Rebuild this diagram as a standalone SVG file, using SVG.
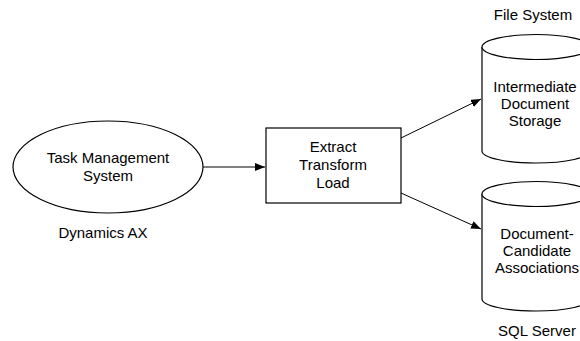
<svg xmlns="http://www.w3.org/2000/svg" width="580" height="341" viewBox="0 0 580 341">
<style>
.s{fill:#fff;stroke:#000;stroke-width:1.2}
.t{font-family:"Liberation Sans",Arial,sans-serif;font-size:15px;fill:#000;text-anchor:middle}
.c{fill:none;stroke:#000;stroke-width:1}
</style>
<defs>
<marker id="a" viewBox="0 0 10 8" refX="10" refY="4" markerWidth="10" markerHeight="8" markerUnits="userSpaceOnUse" orient="auto">
<path d="M0,0 L10,4 L0,8 Z" fill="#000"/>
</marker>
</defs>
<rect width="580" height="341" fill="#fff"/>
<g id="connectors">
<line class="c" x1="203" y1="167" x2="265" y2="167" marker-end="url(#a)"/>
<line class="c" x1="401" y1="138" x2="481" y2="99" marker-end="url(#a)"/>
<line class="c" x1="401" y1="193" x2="481" y2="229" marker-end="url(#a)"/>
</g>
<g id="tms">
<ellipse class="s" cx="108" cy="167" rx="95" ry="46"/>
<text class="t" x="108" y="163">Task Management</text>
<text class="t" x="108" y="181">System</text>
<text class="t" x="103" y="238">Dynamics AX</text>
</g>
<g id="etl">
<rect class="s" x="266" y="128" width="135" height="75"/>
<text class="t" x="333" y="152">Extract</text>
<text class="t" x="333" y="170">Transform</text>
<text class="t" x="333" y="188">Load</text>
</g>
<g id="storage">
<path class="s" d="M482,47 L482,151 A54,12 0 0 0 590,151 L590,47"/>
<ellipse class="s" cx="536" cy="47" rx="54" ry="12.5"/>
<text class="t" x="533" y="20">File System</text>
<text class="t" x="535" y="92">Intermediate</text>
<text class="t" x="535" y="109">Document</text>
<text class="t" x="535" y="126">Storage</text>
</g>
<g id="assoc">
<path class="s" d="M482,194 L482,299 A54,12 0 0 0 590,299 L590,194"/>
<ellipse class="s" cx="536" cy="194" rx="54" ry="12.5"/>
<text class="t" x="537" y="239">Document-</text>
<text class="t" x="537" y="256">Candidate</text>
<text class="t" x="537" y="273">Associations</text>
<text class="t" x="537" y="336">SQL Server</text>
</g>
</svg>
